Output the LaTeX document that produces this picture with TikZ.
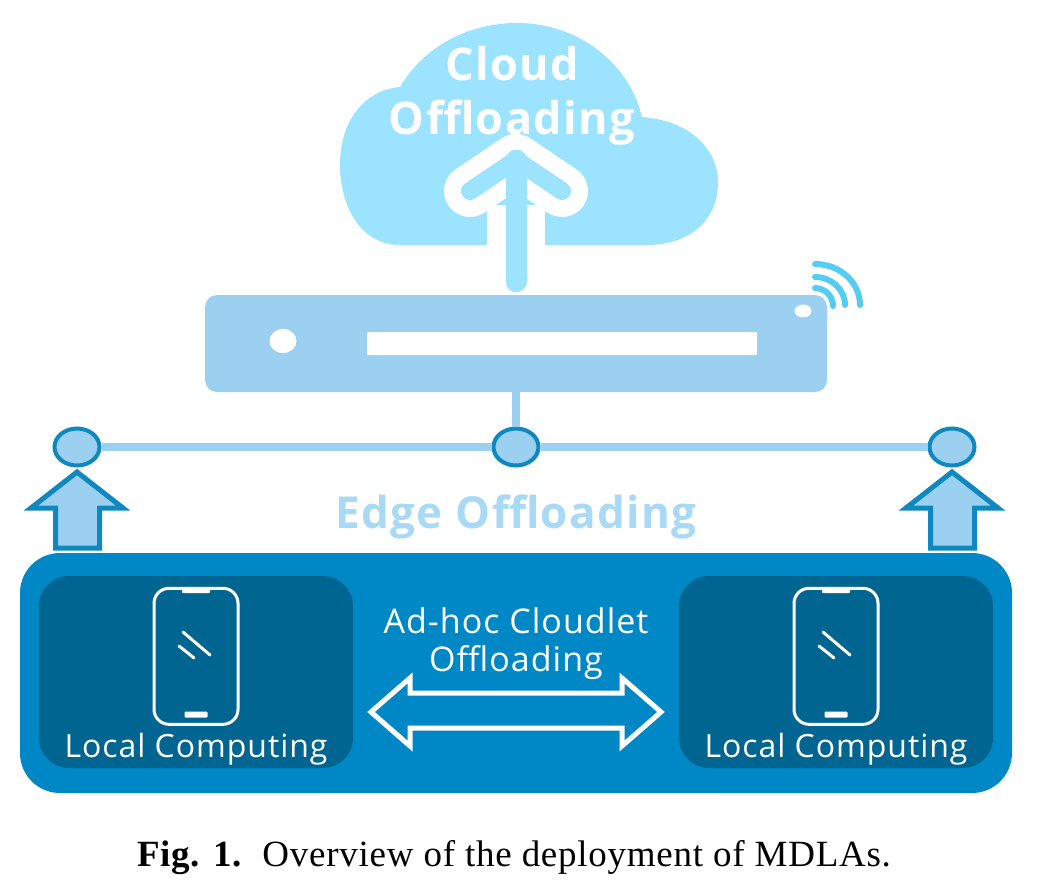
\documentclass[tikz,border=0pt]{standalone}
\usepackage{fontspec}
\usepackage{xcolor}
\usetikzlibrary{arrows.meta, positioning, shapes.geometric}
\setmainfont[LetterSpace=2]{Liberation Serif}
\newfontfamily\labelfont[LetterSpace=3]{Open Sans}
\definecolor{cloudblue}{HTML}{9CE3FF}
\definecolor{serverblue}{HTML}{9BD0F0}
\definecolor{edgetext}{HTML}{A9DAF5}
\definecolor{rimblue}{HTML}{0F88C0}
\definecolor{panelblue}{HTML}{0088C6}
\definecolor{localblue}{HTML}{006591}
\definecolor{wifiblue}{HTML}{55CDF2}

\begin{document}
\begin{tikzpicture}[
    x=1pt, y=-1pt,
    server/.style={rectangle, fill=serverblue, rounded corners=12pt, minimum width=622pt, minimum height=97pt},
    hub/.style={ellipse, draw=rimblue, line width=4pt, fill=serverblue, minimum width=45pt, minimum height=37pt, inner sep=0pt},
    local/.style={rectangle, fill=localblue, rounded corners=30pt, minimum width=314pt, minimum height=192pt},
    phone/.style={rectangle, draw=white, line width=3pt, rounded corners=15pt, minimum width=84pt, minimum height=136pt},
    bar/.style={rectangle, fill=white, rounded corners=1pt, inner sep=0pt},
    whitetext/.style={text=white, font=\labelfont\fontsize{32}{38}\selectfont, inner sep=0pt, align=center},
    titletext/.style={text=white, font=\labelfont\bfseries\fontsize{45}{54}\selectfont, inner sep=0pt, align=center},
    link/.style={serverblue, line width=8pt},
    blockarrow/.style={draw=rimblue, fill=serverblue, line width=5pt, line join=miter},
    wave/.style={wifiblue, line width=6pt, line cap=round},
  ]
    \useasboundingbox (0,0) rectangle (1037,892);

    % Cloud
    \fill[cloudblue] (400,245) .. controls (360,245) and (340,205) .. (340,165)
      .. controls (340,120) and (365,90) .. (400,87)
      .. controls (425,45) and (470,23) .. (517,23)
      .. controls (580,23) and (630,65) .. (642,117)
      .. controls (685,120) and (718,145) .. (718,183)
      .. controls (718,220) and (690,245) .. (647,245) -- cycle;
    \fill[white] (487,205) rectangle (545,300);
    \draw[white, line width=52pt, line cap=round, line join=round] (470,191) -- (516,160) -- (562,191);
    \draw[cloudblue, line width=18pt, line cap=round, line join=round] (470,191) -- (516,160) -- (562,191);

    % Nodes
    \node[server] (server) at (516,343.5) {};
    \node[rectangle, fill=white, rounded corners=1pt, minimum width=390pt, minimum height=23pt, inner sep=0pt] (slot) at (562,343.5) {};
    \node[ellipse, fill=white, minimum width=27pt, minimum height=24pt, inner sep=0pt] (lamp) at (283,341) {};
    \node[ellipse, fill=white, minimum width=17pt, minimum height=13pt, inner sep=0pt] (led) at (803,311) {};
    \node[hub] (hubL) at (77,447) {};
    \node[hub] (hubM) at (516,447) {};
    \node[hub] (hubR) at (952,447) {};
    \node[text=edgetext, font=\labelfont\bfseries\fontsize{44}{44}\selectfont, inner sep=0pt] (edge) at (516,517) {Edge Offloading};
    \node[rectangle, fill=panelblue, rounded corners=40pt, minimum width=992pt, minimum height=240pt] (panel) at (516,673) {};
    \node[local] (localL) at (196,672) {};
    \node[local] (localR) at (836,672) {};
    \node[phone, below=11pt of localL.north] (phoneL) {};
    \node[phone, below=11pt of localR.north] (phoneR) {};
    \node[bar, minimum width=28pt, minimum height=6pt, below=0pt of phoneL.north] (notchL) {};
    \node[bar, minimum width=28pt, minimum height=6pt, below=0pt of phoneR.north] (notchR) {};
    \node[bar, minimum width=23pt, minimum height=6pt, above=8pt of phoneL.south] (homeL) {};
    \node[bar, minimum width=23pt, minimum height=6pt, above=8pt of phoneR.south] (homeR) {};
    \node[whitetext] (textL) at (196,749) {Local Computing};
    \node[whitetext] (textR) at (836,749) {Local Computing};
    \node[whitetext, font=\labelfont\fontsize{34}{38}\selectfont] (adhoc) at (516,644) {Ad-hoc Cloudlet\\Offloading};
    \coordinate (cloudend) at (516,160);

    % Arrows
    \draw[cloudblue, line width=21pt, line cap=round] (server.north) ++(0,-13) -- (cloudend);
    \draw[link] (server.south) -- (hubM);
    \draw[link] (hubL) -- (hubM);
    \draw[link] (hubM) -- (hubR);
    \draw[blockarrow] (77,472) -- (123,508) -- (99.5,508) -- (99.5,548) -- (55.5,548) -- (55.5,508) -- (31,508) -- cycle;
    \draw[blockarrow] (952,472) -- (998,508) -- (974.5,508) -- (974.5,548) -- (930.5,548) -- (930.5,508) -- (906,508) -- cycle;
    \draw[draw=white, fill=panelblue, line width=5pt] (371,712) -- (410,678) -- (410,693) -- (622,693) -- (622,678) -- (661,712) -- (622,746) -- (622,728) -- (410,728) -- (410,746) -- cycle;

    % Labels on top
    \node[titletext] (cloud) at (512,96) {Cloud\\Offloading};
    \node[font=\fontsize{37}{42}\selectfont, inner sep=0pt] (caption) at (514,858) {\textbf{Fig. 1.}\ \ Overview of the deployment of MDLAs.};

    % Phone glass
    \foreach \dx in {0, 640} {
      \draw[white, line width=3pt, line cap=round] (183+\dx,632) -- (210+\dx,655);
      \draw[white, line width=3pt, line cap=round] (179+\dx,646) -- (194+\dx,658);
    }

    % Wifi
    \draw[wave] (815,288) arc[start angle=90, end angle=0, x radius=18pt, y radius=18pt];
    \draw[wave] (815,277) arc[start angle=90, end angle=0, x radius=30pt, y radius=28pt];
    \draw[wave] (815,264) arc[start angle=90, end angle=0, x radius=45pt, y radius=41pt];
  \end{tikzpicture}
\end{document}
